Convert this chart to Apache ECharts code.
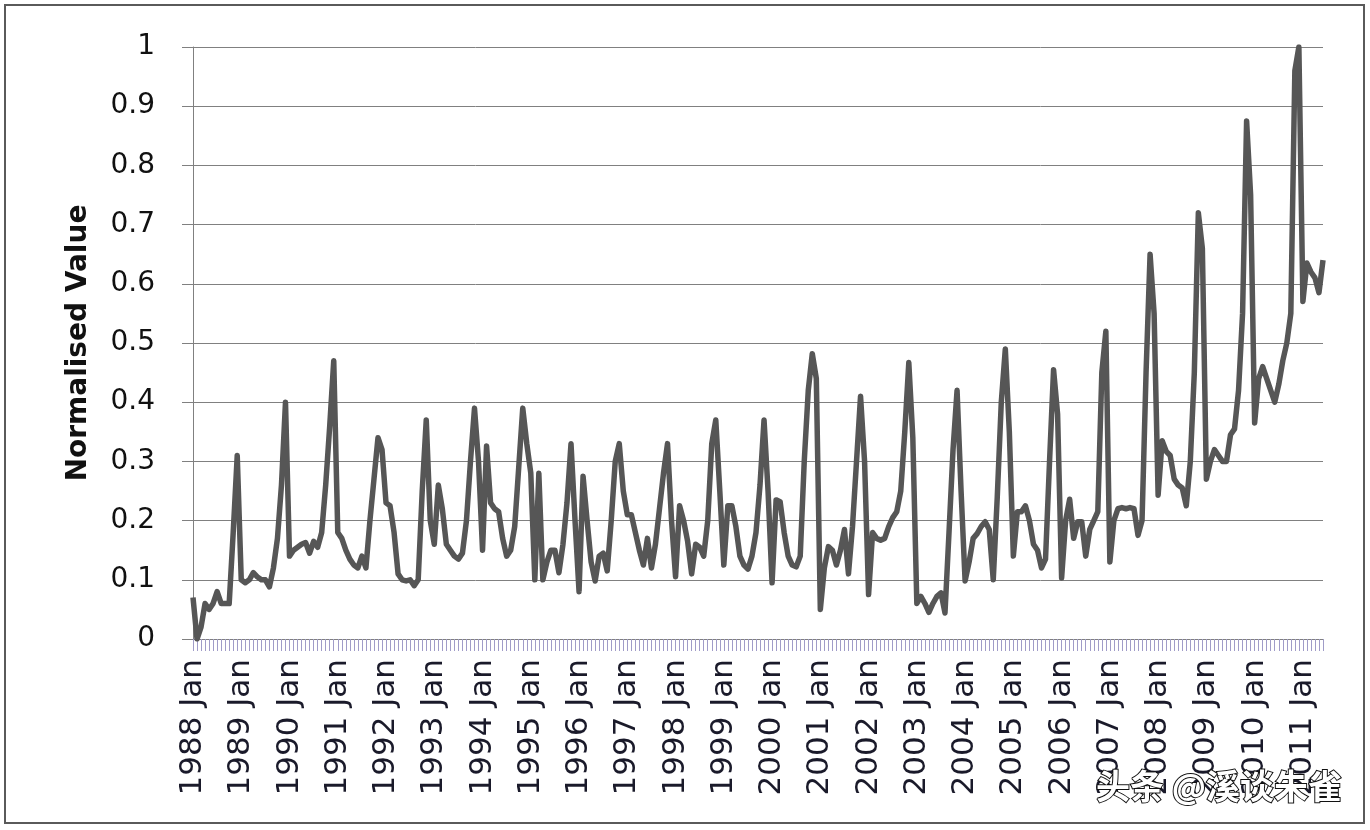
<!DOCTYPE html>
<html>
<head>
<meta charset="utf-8">
<script src="https://cdn.jsdelivr.net/npm/echarts@6/dist/echarts.min.js"></script>
<style>
html,body{margin:0;padding:0;background:#fff;}
#chart{width:1370px;height:830px;}
</style>
</head>
<body>
<div id="chart"></div>
<script>
// Years and months used to build the monthly categories (1988 Jan .. 2011 Jun)
const years = [1988,1989,1990,1991,1992,1993,1994,1995,1996,1997,1998,1999,2000,2001,2002,2003,2004,2005,2006,2007,2008,2009,2010,2011];
const months = ['Jan','Feb','Mar','Apr','May','Jun','Jul','Aug','Sep','Oct','Nov','Dec'];
const lastYearMonths = 6;

// Normalised values, one row per year
const v1988 = [0.07,0.00,0.02,0.06,0.05,0.06,0.08,0.06,0.06,0.06,0.18,0.31];
const v1989 = [0.10,0.095,0.10,0.112,0.105,0.10,0.10,0.088,0.12,0.17,0.26,0.40];
const v1990 = [0.14,0.15,0.155,0.16,0.163,0.145,0.165,0.155,0.18,0.26,0.36,0.47];
const v1991 = [0.18,0.17,0.15,0.135,0.125,0.12,0.14,0.12,0.20,0.27,0.34,0.32];
const v1992 = [0.23,0.225,0.18,0.11,0.10,0.098,0.10,0.09,0.10,0.25,0.37,0.20];
const v1993 = [0.16,0.26,0.22,0.16,0.15,0.14,0.135,0.145,0.20,0.30,0.39,0.30];
const v1994 = [0.15,0.326,0.23,0.22,0.215,0.17,0.14,0.15,0.19,0.29,0.39,0.33];
const v1995 = [0.28,0.10,0.28,0.10,0.13,0.15,0.15,0.112,0.16,0.23,0.33,0.20];
const v1996 = [0.08,0.275,0.20,0.13,0.098,0.14,0.145,0.115,0.20,0.30,0.33,0.25];
const v1997 = [0.21,0.21,0.18,0.15,0.125,0.17,0.12,0.16,0.22,0.28,0.33,0.20];
const v1998 = [0.105,0.225,0.20,0.165,0.11,0.16,0.155,0.14,0.20,0.33,0.37,0.25];
const v1999 = [0.125,0.225,0.225,0.19,0.14,0.125,0.118,0.14,0.18,0.26,0.37,0.25];
const v2000 = [0.095,0.235,0.232,0.18,0.14,0.125,0.122,0.14,0.30,0.42,0.482,0.44];
const v2001 = [0.05,0.12,0.156,0.15,0.125,0.15,0.185,0.11,0.19,0.30,0.41,0.30];
const v2002 = [0.075,0.18,0.17,0.167,0.17,0.19,0.205,0.215,0.25,0.35,0.467,0.34];
const v2003 = [0.06,0.072,0.06,0.045,0.06,0.072,0.078,0.044,0.18,0.32,0.42,0.25];
const v2004 = [0.098,0.13,0.17,0.178,0.19,0.198,0.185,0.10,0.24,0.40,0.49,0.35];
const v2005 = [0.14,0.215,0.215,0.225,0.20,0.16,0.15,0.12,0.135,0.30,0.455,0.38];
const v2006 = [0.103,0.20,0.236,0.17,0.198,0.198,0.14,0.185,0.20,0.215,0.45,0.52];
const v2007 = [0.13,0.20,0.22,0.222,0.22,0.222,0.22,0.175,0.20,0.45,0.65,0.55];
const v2008 = [0.243,0.335,0.317,0.31,0.27,0.26,0.255,0.225,0.30,0.45,0.72,0.66];
const v2009 = [0.27,0.30,0.32,0.31,0.30,0.30,0.345,0.355,0.42,0.55,0.875,0.75];
const v2010 = [0.365,0.44,0.46,0.44,0.42,0.40,0.43,0.47,0.50,0.55,0.96,1.00];
const v2011 = [0.57,0.635,0.62,0.61,0.585,0.64];

const yearRows = [v1988,v1989,v1990,v1991,v1992,v1993,v1994,v1995,v1996,v1997,v1998,v1999,
                  v2000,v2001,v2002,v2003,v2004,v2005,v2006,v2007,v2008,v2009,v2010,v2011];

const categories = [];
const values = [];
years.forEach((y, k) => {
  const n = (k === years.length - 1) ? lastYearMonths : 12;
  for (let m = 0; m < n; m++) {
    categories.push(y + ' ' + months[m]);
    values.push(yearRows[k][m]);
  }
});

const yTicks = {min: 0, max: 1, interval: 0.1};

const chart = echarts.init(document.getElementById('chart'), null, {renderer: 'canvas'});
chart.setOption({
  backgroundColor: '#ffffff',
  animation: false,
  grid: {left: 193, right: 47, top: 47, bottom: 191, containLabel: false},
  xAxis: {
    type: 'category',
    data: categories,
    boundaryGap: false,
    axisLine: {lineStyle: {color: '#808080', width: 1}},
    axisTick: {show: true, interval: 0, length: 12, lineStyle: {color: '#a09cc8', width: 1}},
    axisLabel: {
      interval: 11,
      rotate: 90,
      margin: 20,
      color: '#1a1a2a',
      fontFamily: 'DejaVu Sans',
      fontSize: 31
    },
    splitLine: {show: false}
  },
  yAxis: {
    type: 'value',
    min: yTicks.min,
    max: yTicks.max,
    interval: yTicks.interval,
    name: 'Normalised Value',
    nameLocation: 'middle',
    nameGap: 100,
    nameRotate: 90,
    nameTextStyle: {fontFamily: 'DejaVu Sans', fontWeight: 'bold', fontSize: 28, color: '#111'},
    axisLine: {show: true, lineStyle: {color: '#808080', width: 1}},
    axisTick: {show: true, inside: false, length: 11, lineStyle: {color: '#808080', width: 1}},
    axisLabel: {
      margin: 38,
      color: '#111',
      fontFamily: 'DejaVu Sans',
      fontSize: 28,
      formatter: function (v) { return String(Math.round(v * 10) / 10); }
    },
    splitLine: {show: true, lineStyle: {color: '#808080', width: 1}}
  },
  series: [{
    type: 'line',
    data: values,
    symbol: 'none',
    smooth: false,
    lineStyle: {color: '#565656', width: 5.5, join: 'round'}
  }],
  graphic: [
    {
      type: 'rect',
      shape: {x: 5, y: 5, width: 1359, height: 818},
      style: {fill: 'none', stroke: '#5a5a5a', lineWidth: 2},
      silent: true
    },
    {
      type: 'text',
      left: 1095,
      top: 768,
      style: {
        text: '头条 @溪谈朱雀',
        font: 'bold 34px "Noto Sans CJK SC"',
        fill: '#ffffff',
        stroke: '#111111',
        lineWidth: 2
      },
      z: 100
    }
  ]
});
</script>
</body>
</html>
